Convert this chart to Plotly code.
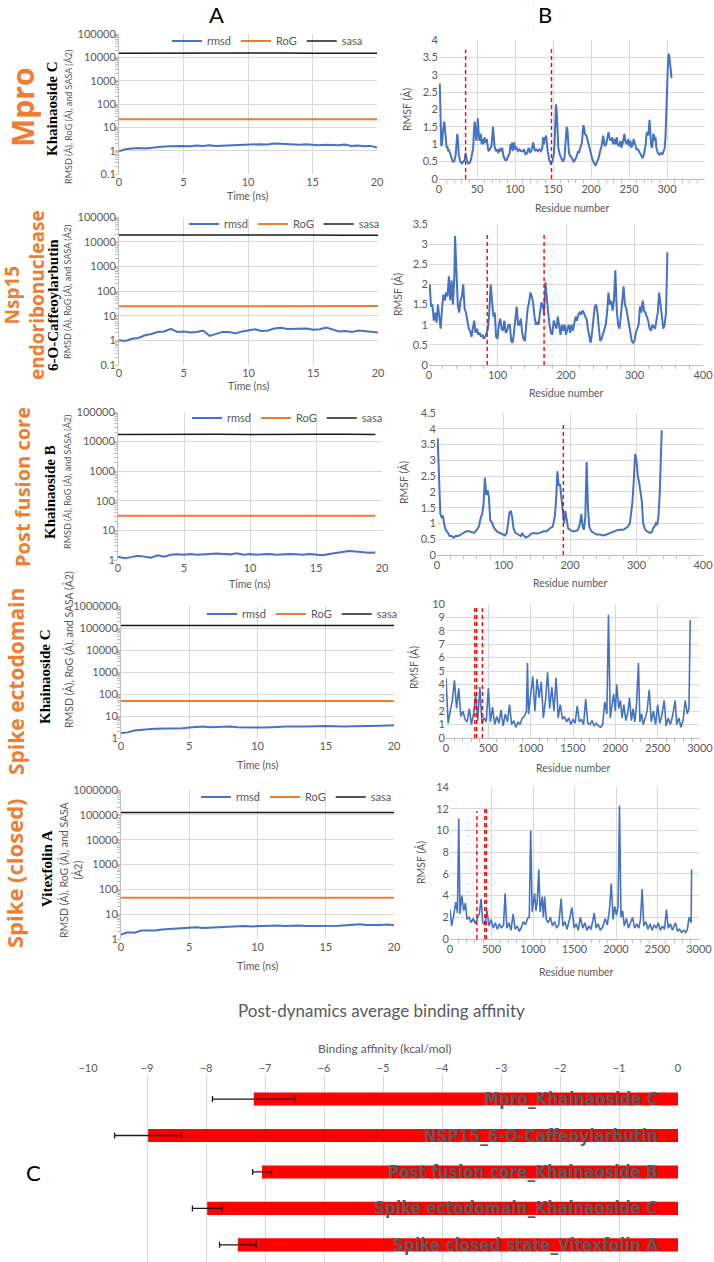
import plotly.graph_objects as go

# ---------------- DATA ----------------
TIME = [0, 0.5, 1, 1.5, 2, 2.5, 3, 3.5, 4, 4.5, 5, 5.5, 6, 6.5, 7, 7.5, 8, 8.5, 9, 9.5, 10,
        10.5, 11, 11.5, 12, 12.5, 13, 13.5, 14, 14.5, 15, 15.5, 16, 16.5, 17, 17.5, 18, 18.5, 19, 19.5, 20]
TIME_PFC = TIME[:-1]
TIME_COARSE = [0, 2.5, 5, 7.5, 10, 12.5, 15, 17.5, 20]
TIME_COARSE_PFC = [0, 2.5, 5, 7.5, 10, 12.5, 15, 17.5, 19.5]

RMSD_MPRO = [0.95, 1.15, 1.25, 1.3, 1.25, 1.35, 1.4, 1.5, 1.55, 1.6, 1.6, 1.55, 1.65, 1.6, 1.7, 1.6, 1.65, 1.7, 1.75, 1.7,
             1.8, 1.85, 1.9, 1.85, 2.05, 2.0, 1.9, 1.85, 1.8, 1.9, 1.75, 1.7, 1.8, 1.75, 1.7, 1.85, 1.6, 1.65, 1.55, 1.6, 1.35]
RMSD_NSP15 = [1.0, 0.95, 1.15, 1.25, 1.6, 1.8, 2.2, 2.3, 2.9, 2.2, 2.3, 2.1, 2.2, 2.5, 1.5, 1.8, 2.2, 2.2, 1.9, 2.3,
              2.6, 2.8, 2.4, 2.5, 3.0, 3.2, 2.9, 2.9, 3.0, 3.0, 2.7, 2.8, 3.3, 2.7, 2.3, 2.4, 2.2, 2.5, 2.4, 2.2, 2.1]
RMSD_PFC = [1.3, 1.15, 1.25, 1.4, 1.3, 1.2, 1.45, 1.3, 1.5, 1.55, 1.5, 1.6, 1.5, 1.55, 1.6, 1.65, 1.6, 1.55, 1.7, 1.5,
            1.6, 1.5, 1.55, 1.6, 1.5, 1.55, 1.6, 1.55, 1.5, 1.6, 1.55, 1.45, 1.6, 1.7, 1.8, 2.0, 1.95, 1.8, 1.75, 1.8]
RMSD_ECTO = [1.7, 1.8, 2.2, 2.4, 2.5, 2.6, 2.6, 2.7, 2.8, 2.8, 3.0, 3.1, 3.3, 3.1, 3.2, 3.3, 3.3, 3.1, 3.0, 3.0,
             3.0, 3.0, 3.0, 3.2, 3.3, 3.2, 3.3, 3.3, 3.4, 3.3, 3.5, 3.4, 3.3, 3.3, 3.4, 3.4, 3.5, 3.5, 3.6, 3.7, 3.8]
RMSD_CLOSED = [1.5, 1.85, 1.8, 2.2, 2.2, 2.2, 2.4, 2.5, 2.6, 2.7, 2.9, 3.0, 2.8, 2.9, 3.0, 3.1, 3.2, 3.2, 3.3, 3.2,
               3.2, 3.3, 3.4, 3.5, 3.3, 3.4, 3.5, 3.3, 3.3, 3.4, 3.5, 3.5, 3.4, 3.6, 3.8, 3.9, 3.7, 3.6, 3.7, 3.8, 3.6]

ROG_MPRO = [22, 22, 22, 22, 22, 22, 22, 22, 22]
ROG_NSP15 = [24, 24, 24.5, 24.5, 24.5, 24.5, 24.5, 24.5, 24.5]
ROG_PFC = [31, 31, 31, 31, 31, 31, 31, 31, 31]
ROG_ECTO = [48, 48, 48, 48, 48, 48, 48, 48, 48]
ROG_CLOSED = [46, 46, 46, 46, 46, 46, 46, 46, 46]

SASA_MPRO = [15000, 15200, 14900, 15100, 15000, 15200, 15000, 15100, 15000]
SASA_NSP15 = [18500, 18700, 18400, 18600, 18500, 18300, 18500, 18400, 18300]
SASA_PFC = [17500, 17800, 17200, 17600, 17500, 17900, 17700, 17600, 17500]
SASA_ECTO = [130000, 131000, 130000, 129000, 130000, 130000, 129000, 130000, 130000]
SASA_CLOSED = [125000, 126000, 125000, 125000, 124000, 125000, 125000, 124000, 125000]

RMSF_MPRO = [(1,2.75),(2,1.9),(3,0.95),(4,1.0),(5,1.35),(7,1.65),(8,1.3),(9,1.0),(10,0.9),(11,0.95),(12,0.8),(13,0.85),(15,0.7),(17,0.6),(18,0.5),(20,0.5),(22,0.7),(23,1.0),(24,1.3),(25,1.1),(26,0.7),(28,0.5),(30,0.45),(32,0.5),(34,0.55),(35,0.75),(36,0.6),(38,0.45),(40,0.45),(42,0.55),(43,0.7),(45,0.9),(46,1.4),(47,1.65),(48,1.4),(49,1.1),(50,1.3),(51,1.75),(52,1.4),(53,1.1),(54,1.25),(55,1.3),(56,1.0),(57,1.15),(58,1.0),(60,1.2),(61,1.05),(63,1.15),(64,0.95),(65,0.8),(67,0.85),(69,0.95),(70,1.2),(71,1.5),(72,1.25),(73,0.95),(75,0.8),(77,0.85),(78,0.75),(80,0.85),(82,0.8),(83,0.9),(85,0.65),(87,0.55),(89,0.55),(91,0.65),(93,0.75),(94,1.0),(95,0.85),(96,1.05),(97,0.8),(98,1.0),(99,1.05),(100,0.85),(102,0.9),(104,0.8),(106,0.85),(108,0.8),(110,0.8),(112,0.85),(114,0.7),(116,0.75),(118,0.9),(120,0.75),(122,0.85),(124,1.05),(125,0.9),(126,0.8),(128,0.85),(130,0.8),(132,0.85),(134,0.8),(136,0.9),(137,1.2),(138,1.0),(139,1.15),(141,1.25),(142,1.0),(143,0.8),(145,0.55),(147,0.45),(149,0.5),(151,0.7),(152,1.0),(153,1.6),(154,2.15),(155,1.9),(156,1.2),(157,0.9),(159,0.7),(161,0.6),(163,0.5),(165,0.6),(166,0.85),(167,1.1),(168,1.5),(169,1.4),(170,1.0),(171,0.75),(173,0.65),(175,0.6),(177,0.5),(179,0.55),(181,0.65),(183,0.8),(184,0.75),(186,0.9),(188,1.05),(189,1.3),(190,1.55),(191,1.45),(192,1.3),(194,1.25),(196,1.05),(198,0.9),(200,0.7),(202,0.55),(204,0.45),(206,0.4),(208,0.5),(210,0.6),(212,0.8),(214,0.95),(216,1.25),(217,1.1),(218,0.95),(220,1.0),(222,1.2),(223,1.35),(224,1.2),(226,1.1),(228,1.2),(229,1.0),(231,1.15),(232,1.0),(234,1.2),(235,1.0),(237,0.95),(239,1.1),(240,0.9),(242,1.05),(244,1.3),(245,1.1),(247,1.0),(249,1.15),(250,0.95),(252,1.1),(253,0.9),(255,1.0),(256,1.15),(258,0.95),(260,0.85),(262,0.85),(264,0.75),(266,0.65),(268,0.6),(270,0.75),(272,1.0),(273,1.3),(274,1.35),(275,1.25),(276,1.4),(277,1.7),(278,1.3),(279,1.0),(280,0.9),(281,1.0),(282,1.3),(283,1.25),(284,1.1),(285,1.2),(286,0.9),(288,0.75),(290,0.7),(292,0.75),(294,0.7),(296,0.8),(297,0.9),(298,1.2),(299,1.7),(300,2.5),(301,3.2),(302,3.6),(303,3.55),(304,3.3),(305,2.95),(306,2.9)]

RMSF_NSP15 = [(1,2.0),(3,1.45),(5,1.5),(7,1.1),(9,1.3),(11,1.05),(13,1.5),(15,1.2),(17,0.9),(19,1.4),(21,1.75),(23,1.6),(25,1.8),(27,1.7),(29,2.2),(31,1.6),(33,2.1),(35,1.5),(37,2.2),(38,3.2),(40,2.4),(42,1.5),(44,1.3),(46,1.6),(48,1.7),(50,2.0),(52,1.4),(54,1.3),(56,1.1),(58,0.9),(60,0.85),(62,0.7),(64,0.9),(66,1.1),(68,0.8),(70,0.9),(72,0.75),(74,0.8),(76,0.7),(78,0.75),(80,0.65),(82,0.7),(84,0.8),(86,0.9),(88,1.3),(90,2.0),(92,1.6),(94,1.2),(96,1.3),(98,0.7),(100,0.65),(102,1.0),(104,1.15),(106,0.9),(108,0.85),(110,1.1),(112,0.8),(114,0.85),(116,1.0),(118,1.0),(120,0.6),(122,0.55),(124,0.8),(126,1.2),(128,1.45),(130,1.0),(132,1.0),(134,1.15),(136,0.8),(138,0.65),(140,0.6),(142,1.0),(144,1.4),(146,1.55),(148,1.8),(150,1.7),(152,1.55),(154,1.2),(156,1.0),(158,1.05),(160,1.0),(162,1.3),(164,1.55),(166,1.5),(168,1.25),(170,2.05),(172,1.6),(174,1.3),(176,1.0),(178,0.8),(180,0.75),(182,1.1),(184,1.0),(186,0.9),(188,1.2),(190,0.9),(192,0.75),(194,1.0),(196,0.85),(198,1.0),(200,0.75),(202,0.9),(204,1.0),(206,0.8),(208,1.0),(210,0.85),(212,1.05),(214,1.2),(216,1.1),(218,1.25),(220,1.3),(222,1.25),(224,1.35),(226,1.3),(228,1.2),(230,1.15),(232,0.9),(234,0.75),(236,0.55),(238,0.8),(240,1.2),(242,1.45),(244,1.5),(246,1.3),(248,0.9),(250,0.6),(252,0.65),(254,0.75),(256,0.85),(258,1.0),(260,1.3),(262,1.8),(264,1.5),(266,1.6),(268,1.35),(270,1.6),(272,2.35),(274,1.4),(276,1.0),(278,0.9),(280,1.2),(282,1.5),(284,1.95),(286,1.5),(288,1.4),(290,1.2),(292,1.0),(294,0.8),(296,0.6),(298,0.55),(300,0.6),(302,0.8),(304,0.9),(306,1.0),(308,1.45),(310,1.3),(312,1.6),(314,1.35),(316,1.3),(318,1.2),(320,1.1),(322,0.9),(324,0.85),(326,1.0),(328,0.95),(330,0.9),(332,1.1),(334,1.3),(336,1.8),(338,1.5),(340,1.1),(342,0.9),(344,1.0),(346,1.3),(348,2.8)]

RMSF_PFC = [(1,3.7),(3,2.2),(5,1.3),(7,1.2),(9,1.25),(11,0.95),(13,0.8),(15,0.75),(17,0.65),(19,0.6),(22,0.6),(25,0.55),(28,0.6),(32,0.6),(36,0.65),(40,0.7),(44,0.75),(48,0.75),(52,0.72),(56,0.7),(60,0.8),(63,0.9),(66,1.2),(68,1.3),(70,1.6),(72,2.45),(74,1.9),(76,2.05),(78,1.85),(80,1.1),(82,1.05),(84,0.95),(86,0.85),(90,0.75),(94,0.7),(98,0.65),(102,0.62),(105,0.7),(107,1.0),(109,1.35),(111,1.4),(113,1.2),(115,0.85),(118,0.7),(122,0.65),(126,0.6),(128,0.7),(130,0.62),(134,0.55),(138,0.6),(142,0.68),(146,0.7),(150,0.68),(155,0.7),(160,0.75),(165,0.75),(170,0.85),(174,0.9),(177,1.2),(179,1.7),(181,2.65),(183,2.2),(185,2.25),(187,1.8),(189,1.3),(191,1.0),(193,1.4),(195,1.1),(197,0.85),(200,0.8),(204,0.75),(208,0.75),(212,0.8),(215,1.0),(217,1.3),(219,0.9),(221,0.8),(223,1.2),(225,2.95),(227,1.5),(229,0.9),(232,0.75),(236,0.7),(240,0.65),(245,0.65),(250,0.62),(255,0.65),(260,0.7),(265,0.75),(270,0.78),(275,0.8),(280,0.8),(284,0.85),(287,0.9),(290,1.0),(292,1.4),(294,1.7),(296,2.4),(298,3.2),(300,3.0),(302,2.5),(304,2.3),(306,2.0),(308,1.7),(310,1.0),(313,0.8),(316,0.75),(320,0.7),(323,0.72),(325,0.85),(327,0.9),(329,1.0),(331,0.95),(333,1.2),(335,2.0),(337,3.9),(338,3.95)]

RMSF_ECTO = [(0,4.5),(25,1.1),(50,2.0),(75,2.8),(100,4.3),(125,2.2),(150,3.7),(175,1.6),(200,2.0),(225,1.4),(250,1.2),(275,2.2),(300,1.0),(325,1.8),(350,3.2),(375,1.3),(400,3.8),(425,1.1),(450,1.5),(475,1.2),(500,3.7),(525,1.2),(550,2.3),(575,1.0),(600,1.6),(625,1.1),(650,2.1),(675,0.9),(700,1.8),(725,1.2),(750,2.5),(775,1.0),(800,1.3),(825,0.8),(850,1.2),(875,1.0),(900,1.5),(925,1.6),(950,2.0),(962,5.6),(975,1.8),(1000,3.5),(1025,4.6),(1050,2.0),(1075,4.4),(1100,3.0),(1125,4.2),(1150,1.5),(1175,2.8),(1200,4.9),(1225,2.2),(1250,3.8),(1275,2.0),(1300,4.5),(1325,1.5),(1350,2.5),(1375,1.4),(1400,1.6),(1425,1.2),(1450,1.5),(1475,1.0),(1500,1.4),(1525,1.1),(1550,2.4),(1575,1.2),(1600,1.4),(1625,1.0),(1650,2.9),(1675,1.1),(1700,1.0),(1725,1.3),(1750,0.9),(1775,1.1),(1800,0.9),(1825,0.8),(1850,1.0),(1875,2.7),(1900,1.8),(1919,9.2),(1940,1.5),(1960,2.5),(1980,3.3),(2000,2.0),(2017,4.0),(2040,2.2),(2060,2.8),(2080,1.5),(2100,2.5),(2125,1.3),(2150,2.0),(2167,3.0),(2190,1.3),(2210,2.2),(2230,1.2),(2250,2.5),(2273,5.6),(2290,1.2),(2310,1.8),(2330,1.0),(2350,1.4),(2375,2.0),(2400,3.6),(2425,1.2),(2450,2.0),(2475,1.0),(2500,2.5),(2525,1.1),(2550,1.7),(2577,2.8),(2600,0.9),(2625,1.5),(2650,1.0),(2675,1.6),(2707,2.8),(2725,1.0),(2750,1.5),(2775,0.8),(2800,1.3),(2825,2.8),(2850,1.8),(2870,2.2),(2884,8.8)]

RMSF_CLOSED = [(0,2.7),(20,1.2),(45,2.2),(70,3.4),(90,2.4),(105,11.1),(120,2.3),(142,4.0),(165,2.6),(185,3.3),(205,1.8),(230,2.0),(255,1.5),(280,1.9),(305,1.4),(330,2.0),(355,2.4),(375,3.7),(395,1.5),(420,1.3),(445,2.6),(470,1.2),(495,1.8),(520,1.0),(545,1.5),(570,0.9),(595,1.4),(620,1.0),(645,1.3),(664,4.2),(685,1.0),(710,1.5),(735,0.8),(760,2.3),(785,0.9),(810,1.2),(835,0.7),(860,1.1),(885,1.6),(910,1.3),(935,1.9),(955,2.0),(972,10.0),(990,2.5),(1005,3.5),(1019,4.2),(1035,2.6),(1050,3.4),(1070,6.4),(1085,2.5),(1110,3.9),(1125,2.0),(1140,3.9),(1160,1.8),(1185,1.5),(1210,2.0),(1235,1.2),(1260,1.6),(1285,1.0),(1310,1.3),(1339,3.7),(1360,1.2),(1385,1.6),(1410,0.9),(1440,1.8),(1469,2.9),(1495,1.0),(1520,1.4),(1545,0.8),(1570,2.0),(1600,1.0),(1625,1.5),(1650,0.8),(1675,1.2),(1700,0.9),(1738,2.4),(1760,1.0),(1785,1.4),(1810,0.8),(1840,1.1),(1870,1.9),(1895,1.3),(1920,2.6),(1943,5.1),(1965,1.8),(1985,3.0),(2005,2.2),(2025,3.0),(2042,12.3),(2060,2.0),(2080,2.6),(2100,1.2),(2125,1.9),(2150,1.0),(2175,1.5),(2200,2.0),(2225,1.0),(2250,1.4),(2275,1.0),(2295,1.8),(2315,4.6),(2335,1.2),(2360,1.6),(2385,0.9),(2410,1.4),(2435,0.8),(2460,1.3),(2485,1.0),(2510,1.5),(2535,0.8),(2560,1.2),(2585,0.9),(2607,2.7),(2630,1.0),(2655,1.4),(2680,0.8),(2700,1.2),(2717,1.5),(2740,0.7),(2765,0.9),(2790,0.6),(2815,0.8),(2840,0.6),(2860,0.9),(2880,2.0),(2895,1.6),(2905,1.5),(2911,6.4)]

# binding-site markers (residue, top of dashed line)
SITE_MPRO = [(35, 3.72), (148, 3.75)]
SITE_NSP15 = [(85, 3.25), (168, 3.25)]
SITE_PFC = [(190, 4.12)]
SITE_ECTO = [(340, 9.8), (362, 9.8), (430, 9.8)]
SITE_CLOSED = [(324, 11.8), (419, 12.0), (438, 12.0)]

PROTEINS = ["Mpro", "Nsp15<br>endoribonuclease", "Post fusion core", "Spike ectodomain", "Spike (closed)"]
LIGANDS = ["Khainaoside C", "6-O-Caffeoylarbutin", "Khainaoside B", "Khainaoside C", "Vitexfolin A"]

COMPLEXES = ["Mpro_Khainaoside C", "NSP15_6-O-Caffeoylarbutin", "Post fusion core_Khainaoside B",
             "Spike ectodomain_Khainaoside C", "Spike closed state_Vitexfolin A"]
AFFINITY = [-7.19, -8.98, -7.05, -7.98, -7.46]
AFFINITY_SD = [0.70, 0.57, 0.16, 0.25, 0.31]

# ---------------- STYLE / LAYOUT ----------------
W, H = 714, 1262
FONT = "Lato, Open Sans, sans-serif"
GRAY = "#595959"
GRID = "#D9D9D9"
AXL = "#BFBFBF"
BLUE = "#4472C4"
ORANGE = "#ED7D31"


def px(xp):
    return xp / W


def py(yp):
    return 1 - yp / H


rows = [
    dict(rmsd=RMSD_MPRO, t=TIME, tc=TIME_COARSE, rog=ROG_MPRO, sasa=SASA_MPRO, rmsf=RMSF_MPRO, site=SITE_MPRO,
         ax=(119, 377), ay=(34, 174), ayr=(-1, 5), bx=(439, 705), by=(40, 179), bxr=350, byr=4, bdx=50, bdy=0.5,
         leg=(167, 41), bmin=10),
    dict(rmsd=RMSD_NSP15, t=TIME, tc=TIME_COARSE, rog=ROG_NSP15, sasa=SASA_NSP15, rmsf=RMSF_NSP15, site=SITE_NSP15,
         ax=(119, 378), ay=(217, 365), ayr=(-1, 5), bx=(429, 703), by=(224, 365), bxr=400, byr=3.5, bdx=100, bdy=0.5,
         leg=(184, 224), bmin=20),
    dict(rmsd=RMSD_PFC, t=TIME_PFC, tc=TIME_COARSE_PFC, rog=ROG_PFC, sasa=SASA_PFC, rmsf=RMSF_PFC, site=SITE_PFC,
         ax=(118, 382), ay=(412, 560), ayr=(0, 5), bx=(437, 703), by=(413, 555), bxr=400, byr=4.5, bdx=100, bdy=0.5,
         leg=(187, 418), bmin=20),
    dict(rmsd=RMSD_ECTO, t=TIME, tc=TIME_COARSE, rog=ROG_ECTO, sasa=SASA_ECTO, rmsf=RMSF_ECTO, site=SITE_ECTO,
         ax=(121, 394), ay=(606, 738), ayr=(0, 6), bx=(446, 700), by=(604, 738), bxr=3000, byr=10, bdx=500, bdy=1,
         leg=(202, 614), bmin=100),
    dict(rmsd=RMSD_CLOSED, t=TIME, tc=TIME_COARSE, rog=ROG_CLOSED, sasa=SASA_CLOSED, rmsf=RMSF_CLOSED, site=SITE_CLOSED,
         ax=(121, 394), ay=(790, 939), ayr=(0, 6), bx=(450, 699), by=(787, 939), bxr=3000, byr=14, bdx=500, bdy=2,
         leg=(196, 797), bmin=100),
]

LOG_LABELS = {-1: "0.1", 0: "1", 1: "10", 2: "100", 3: "1000", 4: "10000", 5: "100000", 6: "1000000"}

fig = go.Figure()
layout = dict(width=W, height=H, margin=dict(l=0, r=0, t=0, b=0, autoexpand=False), paper_bgcolor="white",
              plot_bgcolor="white", font=dict(family=FONT, color=GRAY), showlegend=True)
annotations = []
tickfont = dict(family=FONT, size=11, color=GRAY)


def note(text, x, y, size, color=GRAY, family=FONT, angle=0, **kw):
    d = dict(text=text, x=px(x), y=py(y), xref="paper", yref="paper", showarrow=False, textangle=angle,
             xanchor="center", yanchor="middle", font=dict(size=size, color=color, family=family))
    d.update(kw)
    annotations.append(d)


for i, r in enumerate(rows):
    na = 2 * i + 1
    nb = 2 * i + 2
    xa = "x" if na == 1 else f"x{na}"
    ya = "y" if na == 1 else f"y{na}"
    xb, yb = f"x{nb}", f"y{nb}"
    legname = "legend" if i == 0 else f"legend{i + 1}"

    # ---- A panel ----
    fig.add_trace(go.Scatter(x=r["t"], y=r["rmsd"], mode="lines", name="rmsd", xaxis=xa, yaxis=ya,
                             line=dict(color=BLUE, width=2), legend=legname))
    fig.add_trace(go.Scatter(x=r["tc"], y=r["rog"], mode="lines", name="RoG", xaxis=xa, yaxis=ya,
                             line=dict(color=ORANGE, width=2), legend=legname))
    fig.add_trace(go.Scatter(x=r["tc"], y=r["sasa"], mode="lines", name="sasa", xaxis=xa, yaxis=ya,
                             line=dict(color="#1a1a1a", width=1.5), legend=legname))
    lo, hi = r["ayr"]
    vals = [10 ** k for k in range(lo, hi + 1)]
    txt = [LOG_LABELS[k] for k in range(lo, hi + 1)]
    layout["xaxis" if na == 1 else f"xaxis{na}"] = dict(
        domain=[px(r["ax"][0]), px(r["ax"][1])], anchor=ya, range=[0, 20], dtick=5, automargin=False,
        showgrid=True, gridcolor=GRID, zeroline=False, showline=False, tickfont=tickfont, ticks="")
    layout["yaxis" if na == 1 else f"yaxis{na}"] = dict(
        domain=[py(r["ay"][1]), py(r["ay"][0])], anchor=xa, type="log", range=[lo, hi], automargin=False,
        tickvals=vals, ticktext=txt, showgrid=True, gridcolor=GRID, zeroline=False,
        showline=True, linecolor=AXL, ticks="", tickfont=tickfont,
        minor=dict(ticks="outside", ticklen=3, tickcolor=AXL, dtick="D1", showgrid=False))
    layout[legname] = dict(orientation="h", x=px(r["leg"][0]), y=py(r["leg"][1]), xanchor="left",
                           yanchor="middle", bgcolor="rgba(0,0,0,0)", font=dict(size=11, color=GRAY, family=FONT),
                           itemwidth=30)

    # ---- B panel ----
    fig.add_trace(go.Scatter(x=[p[0] for p in r["rmsf"]], y=[p[1] for p in r["rmsf"]], mode="lines",
                             xaxis=xb, yaxis=yb, showlegend=False,
                             line=dict(color=BLUE, width=2 if i < 3 else 1.6)))
    for s in r["site"]:
        fig.add_trace(go.Scatter(x=[s[0], s[0]], y=[0, s[1]], mode="lines", xaxis=xb, yaxis=yb,
                                 showlegend=False, line=dict(color="#FF0000", width=1.4, dash="4px,3px")))
    layout[f"xaxis{nb}"] = dict(
        domain=[px(r["bx"][0]), px(r["bx"][1])], anchor=yb, range=[0, r["bxr"]], dtick=r["bdx"],
        automargin=False, showgrid=True, gridcolor=GRID, zeroline=False, showline=True, linecolor=AXL, ticks="",
        tickfont=tickfont, minor=dict(ticks="outside", ticklen=3, tickcolor=AXL, dtick=r["bmin"], showgrid=False))
    layout[f"yaxis{nb}"] = dict(
        domain=[py(r["by"][1]), py(r["by"][0])], anchor=xb, range=[0, r["byr"]], dtick=r["bdy"],
        automargin=False, showgrid=True, gridcolor=GRID, zeroline=False, showline=False, ticks="",
        tickfont=tickfont)

# ---- axis titles & side labels (annotations) ----
time_titles = [(247, 196), (248, 386), (250, 584), (257, 765), (257, 966)]
res_titles = [(572, 208), (566, 393), (570, 583), (573, 768), (576, 972)]
rmsf_titles = [(407, 110), (397, 295), (403, 483), (413, 668), (420, 863)]
ax_titles = [(68, 117, 9), (68, 292, 9), (67, 482, 9), (68, 650, 10.5)]
prot_pos = [(22, 108, 30), (24, 295, 19), (22, 487, 20), (16, 682, 21), (14, 873, 22)]
lig_pos = [(52, 109), (53, 305), (50, 492), (45, 677), (47, 869)]

for (x, y) in time_titles:
    note("Time (ns)", x, y, 10.5)
for (x, y) in res_titles:
    note("Residue number", x, y, 10.5)
for (x, y) in rmsf_titles:
    note("RMSF (Å)", x, y, 10.5, angle=-90)
for (x, y, s) in ax_titles:
    note("RMSD (Å), RoG (Å), and SASA (Å2)", x, y, s, angle=-90)
note("RMSD (Å), RoG (Å), and SASA<br>(Å2)", 71, 870, 10.5, angle=-90)
for name, (x, y, s) in zip(PROTEINS, prot_pos):
    note(f"<b>{name}</b>", x, y, s, color=ORANGE, family="Open Sans, DejaVu Sans, sans-serif", angle=-90)
for name, (x, y) in zip(LIGANDS, lig_pos):
    note(f"<b>{name}</b>", x, y, 15, color="black", family="Liberation Serif, Times New Roman, serif", angle=-90)

note("A", 217, 14, 22, color="black")
note("B", 545, 14, 22, color="black")
note("C", 33, 1172, 22, color="black")

# ---- C panel ----
fig.add_trace(go.Bar(x=AFFINITY, y=list(range(len(COMPLEXES))), orientation="h", xaxis="x11", yaxis="y11",
                     marker=dict(color="#FF0000", line=dict(width=0)), width=0.36, showlegend=False,
                     error_x=dict(type="data", array=AFFINITY_SD, color="#1a1a1a", thickness=1.3, width=3)))
layout["xaxis11"] = dict(domain=[px(88), px(678)], anchor="y11", side="top", range=[-10, 0], dtick=1,
                         automargin=False, showgrid=True, gridcolor=GRID, zeroline=False, showline=False,
                         ticks="", tickfont=tickfont)
layout["yaxis11"] = dict(domain=[0, py(1075)], anchor="x11", range=[4.47, -0.66], showgrid=False,
                         automargin=False, zeroline=False, showticklabels=False, ticks="")
for k, name in enumerate(COMPLEXES):
    annotations.append(dict(text=f"<b>{name}</b>", x=-0.3, y=k, xref="x11", yref="y11", xanchor="right",
                            yanchor="middle", showarrow=False,
                            font=dict(size=17, color=GRAY,
                                      family="Liberation Sans Narrow, DejaVu Sans Condensed, Arial Narrow, sans-serif")))
note("Post-dynamics average binding affinity", 381, 1010, 17)
note("Binding affinity (kcal/mol)", 384, 1048, 12)

layout["annotations"] = annotations
fig.update_layout(**layout)
fig.write_html("out.html", config={"displayModeBar": False, "responsive": False},
               post_script="document.body.style.margin='0px';document.body.style.overflow='hidden';")
